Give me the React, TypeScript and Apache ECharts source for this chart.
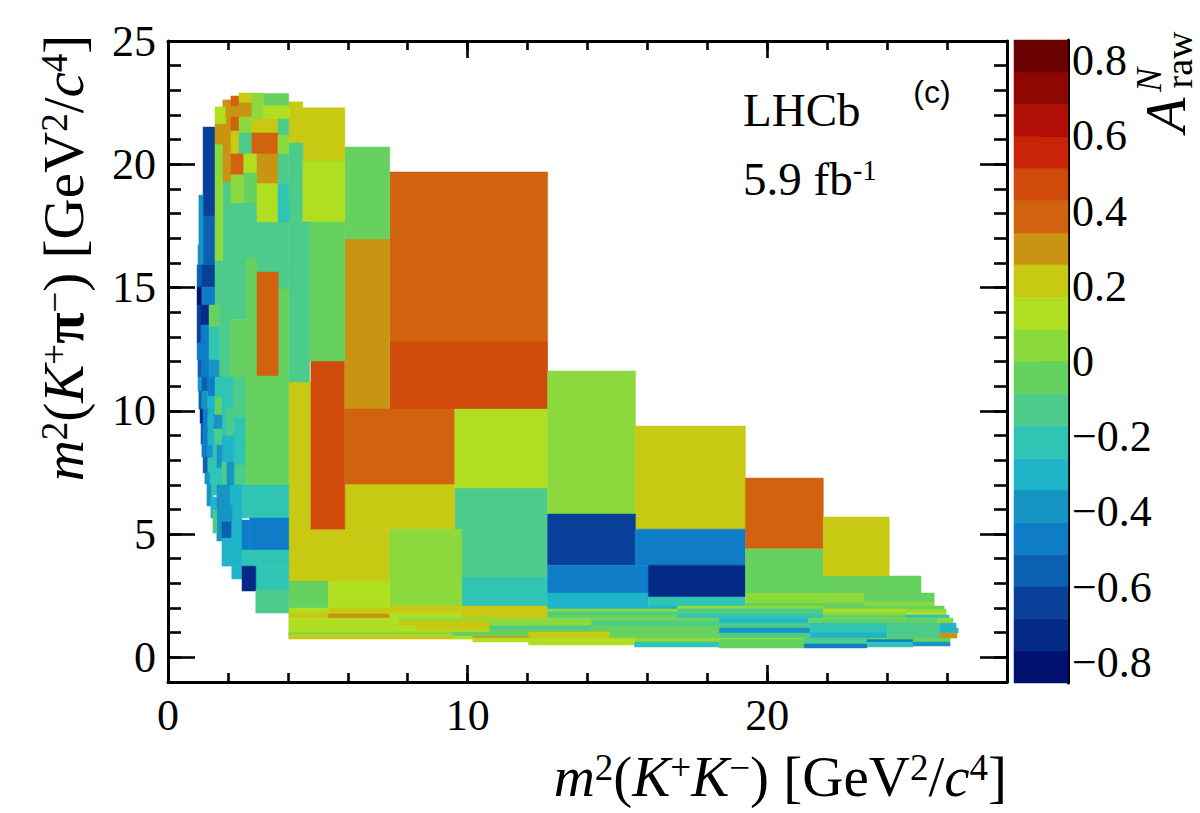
import { useEffect, useRef } from 'react';
import * as echarts from 'echarts';

// each bin: [m2KK low, m2KK high, m2Kpi low, m2Kpi high, A_raw]
const wideBins = [
    [9.57, 12.67, 3.22, 6.87, -0.13],
    [9.8, 12.67, 2.08, 3.22, -0.21],
    [4.03, 4.77, 3.05, 11.17, 0.21],
    [4.03, 7.4, 3.1, 5.2, 0.21],
    [5.9, 9.57, 5.2, 7.03, 0.21],
    [7.4, 9.8, 2.08, 5.2, 0.04],
    [4.77, 5.9, 5.2, 12.02, 0.47],
    [7.4, 12.67, 12.79, 19.69, 0.38],
    [7.4, 12.67, 10.07, 12.79, 0.47],
    [5.9, 7.4, 10.07, 16.97, 0.3],
    [5.9, 7.4, 16.97, 20.7, -0.04],
    [5.9, 9.57, 7.03, 10.07, 0.38],
    [9.57, 12.67, 6.87, 10.07, 0.13],
    [12.67, 15.6, 5.81, 11.61, 0.04],
    [15.6, 19.27, 5.2, 9.38, 0.21],
    [12.67, 15.6, 3.74, 5.81, -0.64],
    [15.6, 19.27, 3.74, 5.2, -0.47],
    [12.67, 16.03, 2.61, 3.74, -0.47],
    [12.67, 16.03, 2.08, 2.61, -0.3],
    [16.03, 19.27, 2.45, 3.74, -0.73],
    [16.03, 19.27, 2.08, 2.45, -0.21],
    [19.27, 21.87, 3.3, 4.43, -0.04],
    [19.27, 25.13, 2.61, 3.3, -0.04],
    [19.27, 21.87, 4.43, 7.27, 0.38],
    [21.87, 24.07, 3.3, 5.69, 0.21],
    [19.27, 23.23, 2.2, 2.61, 0.04],
    [23.23, 25.57, 2.24, 2.61, -0.04],
    [19.27, 23.23, 2.08, 2.2, -0.04],
    [23.23, 25.57, 2.08, 2.24, 0.04],
    [4.03, 5.35, 2.0, 3.1, -0.04],
    [5.35, 7.4, 2.0, 3.1, 0.13],
];

const stripBins = [
    [4.03, 5.35, 1.8, 2.0, 0.13],
    [5.35, 7.4, 1.76, 2.0, 0.21],
    [4.03, 5.35, 1.59, 1.8, 0.21],
    [5.35, 7.4, 1.59, 1.76, 0.3],
    [7.4, 9.8, 1.8, 2.08, 0.21],
    [7.4, 9.8, 1.59, 1.8, 0.13],
    [9.8, 12.67, 1.59, 2.08, 0.21],
    [4.03, 10.73, 0.9, 1.59, 0.13],
    [7.73, 10.73, 1.47, 1.59, 0.04],
    [7.73, 10.73, 1.31, 1.47, 0.21],
    [8.3, 10.73, 1.11, 1.31, 0.21],
    [10.73, 14.13, 1.27, 1.59, 0.04],
    [10.73, 14.13, 1.11, 1.27, -0.13],
    [10.73, 14.13, 1.03, 1.11, -0.04],
    [12.67, 17.0, 1.96, 2.08, -0.3],
    [12.67, 17.0, 1.84, 1.96, 0.04],
    [12.67, 17.0, 1.72, 1.84, -0.13],
    [12.67, 17.0, 1.59, 1.72, -0.04],
    [17.0, 21.87, 1.96, 2.08, 0.04],
    [17.0, 21.87, 1.72, 1.96, -0.13],
    [17.0, 21.87, 1.59, 1.72, -0.21],
    [21.87, 25.9, 1.96, 2.08, -0.04],
    [21.87, 24.63, 1.84, 1.96, 0.13],
    [21.87, 24.63, 1.72, 1.84, 0.04],
    [24.63, 25.97, 1.84, 1.96, 0.04],
    [24.63, 25.97, 1.72, 1.84, 0.13],
    [21.87, 24.63, 1.59, 1.72, -0.04],
    [24.63, 26.07, 1.59, 1.72, -0.21],
    [14.13, 18.4, 1.43, 1.59, -0.04],
    [14.13, 18.4, 1.27, 1.43, -0.13],
    [14.13, 18.4, 0.78, 1.27, -0.04],
    [4.03, 9.5, 0.9, 1.03, 0.04],
    [4.03, 9.5, 0.74, 0.9, 0.21],
    [9.5, 12.03, 0.86, 1.03, -0.04],
    [12.03, 14.73, 0.78, 1.03, 0.21],
    [9.5, 10.17, 0.74, 0.86, 0.13],
    [10.17, 12.03, 0.78, 0.86, 0.3],
    [10.17, 12.03, 0.62, 0.78, 0.13],
    [12.03, 15.57, 0.5, 0.78, 0.13],
    [15.57, 18.4, 0.62, 0.78, 0.04],
    [15.57, 18.4, 0.42, 0.62, -0.21],
    [18.4, 21.37, 1.39, 1.59, -0.3],
    [18.4, 21.43, 1.19, 1.39, -0.13],
    [18.4, 21.43, 0.99, 1.19, -0.38],
    [18.4, 21.43, 0.78, 0.99, -0.13],
    [21.37, 25.7, 1.39, 1.59, -0.04],
    [21.43, 24.0, 1.19, 1.39, -0.21],
    [21.43, 24.0, 0.99, 1.19, -0.21],
    [21.43, 24.0, 0.78, 0.99, -0.3],
    [24.0, 25.77, 0.78, 1.39, -0.13],
    [25.7, 26.2, 1.39, 1.59, 0.04],
    [25.77, 26.3, 1.19, 1.39, -0.3],
    [25.77, 26.37, 0.99, 1.19, -0.3],
    [25.77, 26.33, 0.78, 0.99, 0.3],
    [18.4, 21.23, 0.7, 0.78, 0.04],
    [18.4, 21.23, 0.38, 0.7, -0.04],
    [21.23, 23.33, 0.54, 0.78, -0.13],
    [21.23, 23.33, 0.38, 0.54, -0.47],
    [23.33, 24.87, 0.72, 0.78, -0.04],
    [23.33, 24.87, 0.62, 0.72, -0.47],
    [23.33, 24.87, 0.42, 0.62, -0.21],
    [24.87, 26.1, 0.62, 0.78, -0.04],
    [24.87, 26.1, 0.46, 0.62, -0.38],
];

const upperLeftBins = [
    [4.03, 4.5, 20.86, 22.53, 0.21],
    [4.5, 5.9, 20.13, 22.29, 0.21],
    [4.03, 4.5, 17.66, 20.86, -0.13],
    [4.5, 5.9, 17.66, 20.13, 0.13],
    [4.03, 4.73, 11.17, 17.66, -0.13],
    [4.73, 5.9, 12.02, 17.66, -0.04],
    [1.83, 4.03, 15.63, 18.43, -0.13],
    [1.83, 2.1, 18.43, 19.29, -0.13],
    [1.7, 2.1, 11.37, 14.29, -0.13],
    [1.83, 2.6, 13.72, 15.63, -0.13],
    [2.1, 2.6, 11.37, 13.72, -0.04],
    [2.6, 2.97, 11.37, 16.16, -0.04],
    [2.97, 3.7, 11.41, 15.63, 0.38],
    [3.7, 4.03, 14.94, 15.63, -0.13],
    [3.7, 4.03, 11.37, 14.94, -0.04],
    [2.57, 4.03, 6.99, 11.41, -0.04],
    [1.17, 1.57, 17.9, 21.51, -0.64],
    [1.17, 1.57, 15.92, 17.9, -0.56],
    [1.03, 1.17, 16.73, 18.75, -0.38],
    [1.0, 1.17, 15.92, 16.73, -0.38],
    [0.97, 1.13, 15.02, 15.92, -0.56],
    [1.13, 1.57, 15.02, 15.92, -0.64],
    [0.97, 1.13, 14.29, 15.02, -0.81],
    [1.13, 1.57, 14.29, 15.02, -0.47],
    [0.97, 1.1, 12.75, 14.29, -0.64],
    [1.1, 1.37, 13.48, 14.29, -0.73],
    [1.1, 1.37, 12.75, 13.48, -0.47],
    [0.97, 1.37, 12.06, 12.75, -0.47],
    [1.37, 1.7, 13.4, 14.29, -0.04],
    [1.37, 1.7, 12.06, 13.4, -0.21],
    [1.57, 1.83, 16.08, 20.86, 0.04],
    [1.57, 1.83, 14.29, 16.08, -0.13],
    [1.83, 2.1, 19.29, 22.61, 0.3],
    [1.57, 1.93, 21.63, 22.33, 0.13],
    [1.57, 1.93, 20.82, 21.63, 0.3],
    [1.93, 2.37, 21.92, 22.49, 0.3],
    [2.1, 2.37, 22.37, 22.77, 0.38],
    [2.37, 2.8, 22.49, 22.89, 0.21],
    [2.37, 2.8, 21.92, 22.49, 0.3],
    [2.8, 3.2, 22.41, 22.89, 0.04],
    [2.8, 3.2, 21.84, 22.41, 0.04],
    [3.2, 4.03, 22.37, 22.87, -0.04],
    [3.2, 4.03, 21.84, 22.37, 0.13],
    [2.1, 2.37, 21.35, 21.92, 0.38],
    [2.37, 2.8, 21.27, 21.92, 0.04],
    [2.8, 3.67, 21.27, 21.84, 0.21],
    [3.67, 4.03, 21.19, 21.84, -0.13],
    [2.1, 2.37, 20.42, 21.35, 0.21],
    [2.37, 2.8, 20.42, 21.27, -0.13],
    [2.8, 3.67, 20.42, 21.27, 0.38],
    [3.67, 4.03, 20.42, 21.19, 0.04],
    [2.1, 2.53, 19.57, 20.42, 0.38],
    [2.53, 2.97, 19.65, 20.42, 0.13],
    [2.97, 3.67, 19.21, 20.42, 0.3],
    [3.67, 4.03, 19.21, 20.42, -0.13],
    [2.1, 2.53, 18.43, 19.57, 0.04],
    [2.53, 2.97, 18.43, 19.65, -0.04],
    [2.97, 3.67, 17.66, 19.21, 0.13],
    [3.67, 4.03, 17.66, 19.21, -0.21],
];

const lowerLeftBins = [
    [1.0, 1.13, 11.37, 12.06, -0.56],
    [1.13, 1.37, 11.37, 12.06, -0.47],
    [1.37, 1.7, 11.37, 12.06, -0.38],
    [1.0, 1.13, 10.8, 11.37, -0.38],
    [1.13, 1.33, 10.8, 11.37, -0.56],
    [1.33, 1.57, 10.6, 11.37, -0.47],
    [1.57, 1.97, 10.56, 11.37, -0.21],
    [1.97, 2.17, 10.11, 11.37, -0.21],
    [2.17, 2.57, 9.71, 11.37, -0.13],
    [1.03, 1.13, 10.07, 10.8, -0.56],
    [1.13, 1.33, 10.07, 10.8, -0.38],
    [1.33, 1.57, 9.83, 10.6, -0.3],
    [1.57, 1.8, 9.83, 10.56, -0.04],
    [1.8, 1.97, 8.98, 10.56, -0.21],
    [1.93, 2.2, 8.98, 10.11, -0.13],
    [2.2, 2.57, 8.69, 9.71, -0.21],
    [2.2, 2.57, 7.8, 8.69, -0.21],
    [2.2, 2.57, 6.99, 7.8, -0.13],
    [1.07, 1.17, 9.5, 10.07, -0.73],
    [1.17, 1.33, 9.3, 10.07, -0.47],
    [1.33, 1.53, 9.14, 9.83, -0.3],
    [1.53, 1.8, 9.26, 9.83, -0.38],
    [1.53, 1.8, 8.61, 9.26, -0.13],
    [1.1, 1.17, 8.65, 9.5, -0.56],
    [1.17, 1.33, 8.65, 9.3, -0.47],
    [1.33, 1.53, 8.61, 9.14, -0.3],
    [1.8, 2.2, 7.92, 8.98, -0.3],
    [1.13, 1.33, 8.13, 8.65, -0.47],
    [1.33, 1.5, 8.09, 8.61, -0.38],
    [1.5, 1.63, 7.68, 8.65, -0.21],
    [1.63, 1.8, 7.68, 8.61, -0.38],
    [1.17, 1.33, 7.48, 8.13, -0.56],
    [1.33, 1.5, 7.48, 8.09, -0.21],
    [1.8, 1.97, 6.99, 7.92, -0.13],
    [1.97, 2.2, 6.99, 7.92, -0.38],
    [1.63, 1.8, 6.99, 7.68, -0.21],
    [1.5, 1.63, 6.58, 7.68, -0.21],
    [1.23, 1.4, 7.03, 7.48, -0.38],
    [1.4, 1.5, 6.5, 7.48, -0.21],
    [1.3, 1.43, 6.14, 7.03, -0.38],
    [1.43, 1.63, 5.65, 6.5, -0.3],
    [1.63, 2.07, 6.18, 6.99, -0.38],
    [2.07, 2.47, 5.49, 6.99, -0.3],
    [2.47, 4.03, 5.65, 6.99, -0.21],
    [1.63, 1.8, 4.72, 6.18, -0.38],
    [1.8, 2.13, 5.49, 6.18, -0.38],
    [1.8, 2.13, 4.84, 5.49, -0.56],
    [1.5, 1.63, 5.04, 5.98, -0.13],
    [2.13, 2.47, 4.35, 5.49, -0.3],
    [1.8, 2.47, 3.7, 4.84, -0.3],
    [2.47, 2.73, 4.35, 5.57, -0.47],
    [2.73, 4.03, 4.35, 5.65, -0.47],
    [2.47, 4.03, 3.7, 4.35, -0.21],
    [2.13, 2.47, 3.18, 3.7, -0.3],
    [2.93, 4.03, 2.73, 3.7, -0.21],
    [2.47, 2.93, 2.69, 3.7, -0.73],
    [2.93, 4.03, 1.8, 2.73, -0.13],
];

// colour bar, bottom to top
const colorLevels = [
    -0.855, -0.77, -0.684, -0.598, -0.513, -0.428, -0.342, -0.257, -0.171, -0.086, 0,
    0.086, 0.171, 0.257, 0.342, 0.428, 0.513, 0.598, 0.684, 0.77, 0.855,
];
const colorPalette = [
    '#021070', '#052a85', '#084099', '#0b60b0', '#0f7cc8', '#1694c4', '#1fb4c8', '#2fc4b4', '#4ccb8a', '#66d15e',
    '#8cd93e', '#b0de21', '#c7c912', '#c99411', '#d1630f', '#cf4a0b', '#c92408', '#b10e05', '#8e0700', '#6b0000',
];

const xMajorTicks = [0, 10, 20];
const yMajorTicks = [0, 5, 10, 15, 20, 25];
const barTicks = [-0.8, -0.6, -0.4, -0.2, 0, 0.2, 0.4, 0.6, 0.8];

const SERIF = '"Liberation Serif"';

const colorOf = (v: number) => {
    for (let i = 0; i < colorPalette.length; i++) {
        if (v < colorLevels[i + 1]) return colorPalette[i];
    }
    return colorPalette[colorPalette.length - 1];
};

const renderBin = (_: any, api: any) => {
    const a = api.coord([api.value(0), api.value(3)]);
    const b = api.coord([api.value(1), api.value(2)]);
    const fill = colorOf(api.value(4));
    return {
        type: 'rect',
        shape: { x: a[0], y: a[1], width: b[0] - a[0], height: b[1] - a[1] },
        style: { fill, stroke: fill, lineWidth: 0.5 },
    };
};

const titleRich = {
    n: { fontFamily: SERIF, fontSize: 57, color: '#000', lineHeight: 56, verticalAlign: 'bottom' },
    i: { fontFamily: SERIF, fontSize: 57, fontStyle: 'italic', color: '#000', lineHeight: 56, verticalAlign: 'bottom' },
    b: { fontFamily: SERIF, fontSize: 57, fontWeight: 'bold', color: '#000', lineHeight: 56, verticalAlign: 'bottom' },
    s: { fontFamily: SERIF, fontSize: 37, color: '#000', lineHeight: 56, verticalAlign: 'top' },
};

export default function App() {
    const chartRef = useRef<HTMLDivElement>(null);

    useEffect(() => {
        if (!chartRef.current) return;
        const chart = echarts.init(chartRef.current, undefined, { renderer: 'svg' });

        const majorTick = (length: number, customValues: number[]) => ({
            show: true,
            inside: true,
            length,
            customValues,
            lineStyle: { color: '#000', width: 2.6 },
        });
        const minorTick = (length: number) => ({
            show: true,
            inside: true,
            length,
            lineStyle: { color: '#000', width: 2.6 },
        });
        const frameLine = { show: true, onZero: false, lineStyle: { color: '#000', width: 3 } };
        const noLine = { show: false, onZero: false };
        const valueLabel = { fontFamily: SERIF, fontSize: 44, color: '#000' };

        const xBase = { type: 'value', gridIndex: 0, min: 0, max: 28, splitLine: { show: false } };
        const yBase = { type: 'value', gridIndex: 0, min: -1, max: 25, splitLine: { show: false } };

        const option = {
            animation: false,
            grid: [
                { left: 168, top: 41, width: 839, height: 641 },
                { left: 1014, top: 40, width: 54, height: 643 },
            ],
            xAxis: [
                {
                    ...xBase,
                    position: 'bottom',
                    axisLine: frameLine,
                    axisTick: majorTick(17, xMajorTicks),
                    axisLabel: { ...valueLabel, margin: 11, customValues: xMajorTicks },
                },
                { ...xBase, position: 'bottom', interval: 2, axisLine: noLine, axisTick: minorTick(9), axisLabel: { show: false } },
                { ...xBase, position: 'top', axisLine: frameLine, axisTick: majorTick(17, xMajorTicks), axisLabel: { show: false } },
                { ...xBase, position: 'top', interval: 2, axisLine: noLine, axisTick: minorTick(9), axisLabel: { show: false } },
                { type: 'value', gridIndex: 1, min: 0, max: 1, show: false },
            ],
            yAxis: [
                {
                    ...yBase,
                    position: 'left',
                    axisLine: frameLine,
                    axisTick: majorTick(27, yMajorTicks),
                    axisLabel: { ...valueLabel, margin: 12, customValues: yMajorTicks },
                },
                { ...yBase, position: 'left', interval: 1, axisLine: noLine, axisTick: minorTick(13), axisLabel: { show: false } },
                { ...yBase, position: 'right', axisLine: frameLine, axisTick: majorTick(27, yMajorTicks), axisLabel: { show: false } },
                { ...yBase, position: 'right', interval: 1, axisLine: noLine, axisTick: minorTick(13), axisLabel: { show: false } },
                {
                    type: 'value',
                    gridIndex: 1,
                    position: 'right',
                    min: -0.855,
                    max: 0.855,
                    splitLine: { show: false },
                    axisLine: frameLine,
                    axisTick: majorTick(28, barTicks),
                    axisLabel: {
                        ...valueLabel,
                        margin: 4,
                        customValues: barTicks,
                        formatter: (v: number) => String(v).replace('-', '\u2212'),
                    },
                },
            ],
            series: [
                {
                    type: 'custom',
                    xAxisIndex: 0,
                    yAxisIndex: 0,
                    renderItem: renderBin,
                    encode: { x: [0, 1], y: [2, 3] },
                    data: [...wideBins, ...stripBins, ...upperLeftBins, ...lowerLeftBins],
                },
                {
                    type: 'custom',
                    xAxisIndex: 4,
                    yAxisIndex: 4,
                    renderItem: renderBin,
                    encode: { x: [0, 1], y: [2, 3] },
                    data: colorPalette.map((_, i) => [0, 1, colorLevels[i], colorLevels[i + 1], (colorLevels[i] + colorLevels[i + 1]) / 2]),
                },
            ],
            graphic: [
                {
                    type: 'text',
                    x: 1007,
                    y: 777,
                    style: {
                        text: '{i|m}{s|2}{n|(}{i|K}{s|+}{i|K}{s|\u2212}{n|) [GeV}{s|2}{n|/}{i|c}{s|4}{n|]}',
                        rich: titleRich,
                        align: 'right',
                        verticalAlign: 'middle',
                    },
                },
                {
                    type: 'text',
                    x: 64,
                    y: 258,
                    rotation: Math.PI / 2,
                    style: {
                        text: '{i|m}{s|2}{n|(}{i|K}{s|+}{b|\u03c0}{s|\u2212}{n|) [GeV}{s|2}{n|/}{i|c}{s|4}{n|]}',
                        rich: titleRich,
                        align: 'center',
                        verticalAlign: 'middle',
                    },
                },
                {
                    type: 'text',
                    x: 743,
                    y: 110,
                    style: { text: 'LHCb', fontFamily: SERIF, fontSize: 47, fill: '#000', verticalAlign: 'middle' },
                },
                {
                    type: 'text',
                    x: 743,
                    y: 179,
                    style: {
                        text: '{n|5.9 fb}{s|-1}',
                        rich: {
                            n: { fontFamily: SERIF, fontSize: 47, color: '#000', lineHeight: 47, verticalAlign: 'bottom' },
                            s: { fontFamily: SERIF, fontSize: 29, color: '#000', lineHeight: 47, verticalAlign: 'top' },
                        },
                        verticalAlign: 'middle',
                    },
                },
                {
                    type: 'text',
                    x: 932,
                    y: 92,
                    style: {
                        text: '(c)',
                        fontFamily: '"Liberation Sans"',
                        fontSize: 32,
                        fill: '#000',
                        align: 'center',
                        verticalAlign: 'middle',
                    },
                },
                {
                    type: 'text',
                    x: 1194,
                    y: 115,
                    rotation: Math.PI / 2,
                    style: { text: 'A', fontFamily: SERIF, fontSize: 57, fontStyle: 'italic', fill: '#000', align: 'center', verticalAlign: 'bottom' },
                },
                {
                    type: 'text',
                    x: 1167,
                    y: 80,
                    rotation: Math.PI / 2,
                    style: { text: 'N', fontFamily: SERIF, fontSize: 36, fontStyle: 'italic', fill: '#000', align: 'center', verticalAlign: 'bottom' },
                },
                {
                    type: 'text',
                    x: 1198,
                    y: 60,
                    rotation: Math.PI / 2,
                    style: { text: 'raw', fontFamily: SERIF, fontSize: 38, fill: '#000', align: 'center', verticalAlign: 'bottom' },
                },
            ],
        };

        chart.setOption(option as any);

        return () => {
            chart.dispose();
        };
    }, []);

    return <div ref={chartRef} style={{ position: 'absolute', left: 0, top: 0, width: 1200, height: 813 }} />;
}
